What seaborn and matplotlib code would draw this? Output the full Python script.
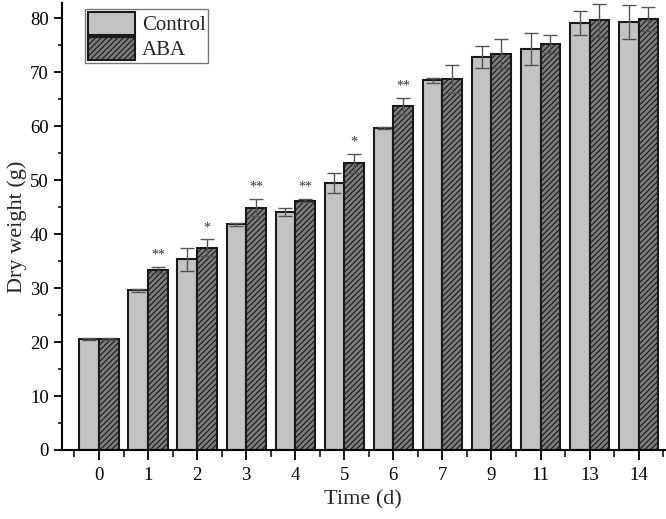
import numpy as np
import pandas as pd
import matplotlib
matplotlib.use('Agg')
import matplotlib.pyplot as plt
from matplotlib.ticker import MultipleLocator, FixedLocator
import seaborn as sns

days = ['0', '1', '2', '3', '4', '5', '6', '7', '9', '11', '13', '14']
control = [20.6, 29.6, 35.3, 41.8, 44.1, 49.5, 59.6, 68.5, 72.8, 74.3, 79.1, 79.3]
control_err = [0.2, 0.3, 2.1, 0.3, 0.7, 1.9, 0.2, 0.5, 2.1, 3.0, 2.3, 3.2]
aba = [20.6, 33.3, 37.5, 44.9, 46.2, 53.1, 63.7, 68.8, 73.4, 75.2, 79.6, 79.8]
aba_err = [0.2, 0.6, 1.5, 1.6, 0.3, 1.7, 1.5, 2.6, 2.7, 1.7, 3.1, 2.2]
stars = ['', '**', '*', '**', '**', '*', '**', '', '', '', '', '']

df = pd.DataFrame({
    'Time': days * 2,
    'Weight': control + aba,
    'Group': ['Control'] * len(days) + ['ABA'] * len(days),
})

sns.set_style('ticks')
plt.rcParams['font.family'] = ['Liberation Serif', 'DejaVu Serif']
plt.rcParams['hatch.color'] = '#3a3a3a'
plt.rcParams['hatch.linewidth'] = 0.8

fig = plt.figure(figsize=(6.66, 5.19), dpi=100)
ax = fig.add_axes([0.093, 0.133, 0.905, 0.861])

sns.barplot(data=df, x='Time', y='Weight', hue='Group', order=days,
            hue_order=['Control', 'ABA'], palette=['#c3c3c3', '#7b7b7b'],
            edgecolor='#1a1a1a', linewidth=1.5, errorbar=None, ax=ax)

n = len(days)
bars = ax.patches[:2 * n]
ctrl_bars, aba_bars = bars[:n], bars[n:]
for b in aba_bars:
    b.set_hatch('//////')

# error bars
for group, errs in [(ctrl_bars, control_err), (aba_bars, aba_err)]:
    xs = [b.get_x() + b.get_width() / 2 for b in group]
    ys = [b.get_height() for b in group]
    ax.errorbar(xs, ys, yerr=errs, fmt='none', ecolor='#555555',
                elinewidth=1.0, capsize=5, capthick=1.0, zorder=5)

# significance stars
for b, e, s in zip(aba_bars, aba_err, stars):
    if s:
        ax.text(b.get_x() + b.get_width() / 2, b.get_height() + e + 1.0, s,
                ha='center', va='bottom', fontsize=10, color='#333333')

ax.set_xlim(-0.755, 11.53)
ax.set_ylim(0, 82.8)
ax.yaxis.set_major_locator(MultipleLocator(10))
ax.yaxis.set_minor_locator(MultipleLocator(5))
ax.xaxis.set_minor_locator(FixedLocator(np.arange(-0.5, n, 1.0)))

ax.tick_params(axis='both', which='major', labelsize=13.5, width=1.3,
               direction='out', colors='black')
ax.tick_params(axis='x', which='major', length=7, pad=5)
ax.tick_params(axis='x', which='minor', length=5, width=1.3)
ax.tick_params(axis='y', which='major', length=6)
ax.tick_params(axis='y', which='minor', length=3, width=1.3)

for sp in ['top', 'right']:
    ax.spines[sp].set_visible(False)
for sp in ['left', 'bottom']:
    ax.spines[sp].set_linewidth(1.5)
    ax.spines[sp].set_color('black')

ax.set_xlabel('Time (d)', fontsize=16, labelpad=5)
ax.set_ylabel('Dry weight (g)', fontsize=16, labelpad=2)

leg = ax.legend(loc='upper left', bbox_to_anchor=(0.028, 1.0), fontsize=15,
                frameon=True, fancybox=False, edgecolor='#555555',
                handlelength=2.3, handleheight=1.3, handletextpad=0.3,
                borderpad=0.12, labelspacing=0.08, borderaxespad=0.3)
leg.get_frame().set_linewidth(1.0)
leg.legend_handles[1].set_hatch('//////')

fig.savefig('out.png', dpi=100)
